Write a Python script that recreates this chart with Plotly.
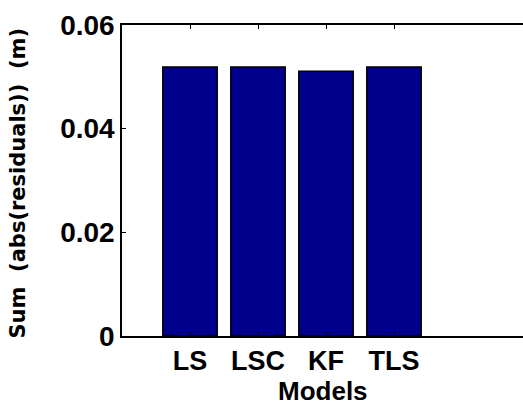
import plotly.graph_objects as go

models = ["LS", "LSC", "KF", "TLS"]
positions = [1, 2, 3, 4]
values = [0.0519, 0.0519, 0.0511, 0.0519]
y_ticks = [0, 0.02, 0.04, 0.06]
y_tick_labels = ["0", "0.02", "0.04", "0.06"]
x_title = "Models"
y_title = "Sum  (abs(residuals))  (m)"

fam = "Liberation Sans, Arial, sans-serif"

fig = go.Figure()
fig.add_trace(go.Bar(
    x=positions, y=values, width=0.8,
    marker=dict(color="rgb(0,0,140)", line=dict(color="black", width=1.5)),
))

fig.update_layout(
    width=523, height=406,
    margin=dict(l=122, r=0, t=25, b=70),
    plot_bgcolor="white", paper_bgcolor="white",
    showlegend=False,
    font=dict(family=fam, color="black"),
)
fig.update_xaxes(
    range=[0, 5.897],
    tickvals=positions, ticktext=models,
    ticks="inside", ticklen=4, tickcolor="black",
    showline=True, linecolor="black", linewidth=1.5, mirror="ticks",
    showgrid=False, zeroline=False,
    tickfont=dict(size=27, weight="bold", family=fam, color="black"),
)
fig.update_yaxes(
    range=[0, 0.06],
    tickvals=y_ticks, ticktext=y_tick_labels,
    ticks="inside", ticklen=4, tickcolor="black",
    showline=True, linecolor="black", linewidth=1.5, mirror=False,
    showgrid=False, zeroline=False,
    tickfont=dict(size=28, weight="bold", family=fam, color="black"),
)
fig.add_annotation(
    text=x_title, xref="paper", yref="paper", x=0.5, y=0,
    xanchor="center", yanchor="middle", yshift=-55, showarrow=False,
    font=dict(size=26, weight="bold", family=fam, color="black"),
)
fig.add_annotation(
    text=y_title, xref="paper", yref="paper", x=0, y=0.5,
    xanchor="center", yanchor="middle", xshift=-105, yshift=-3,
    textangle=-90, showarrow=False,
    font=dict(size=21, weight="bold", family="DejaVu Sans, sans-serif", color="black"),
)

fig.write_html("out.html")
